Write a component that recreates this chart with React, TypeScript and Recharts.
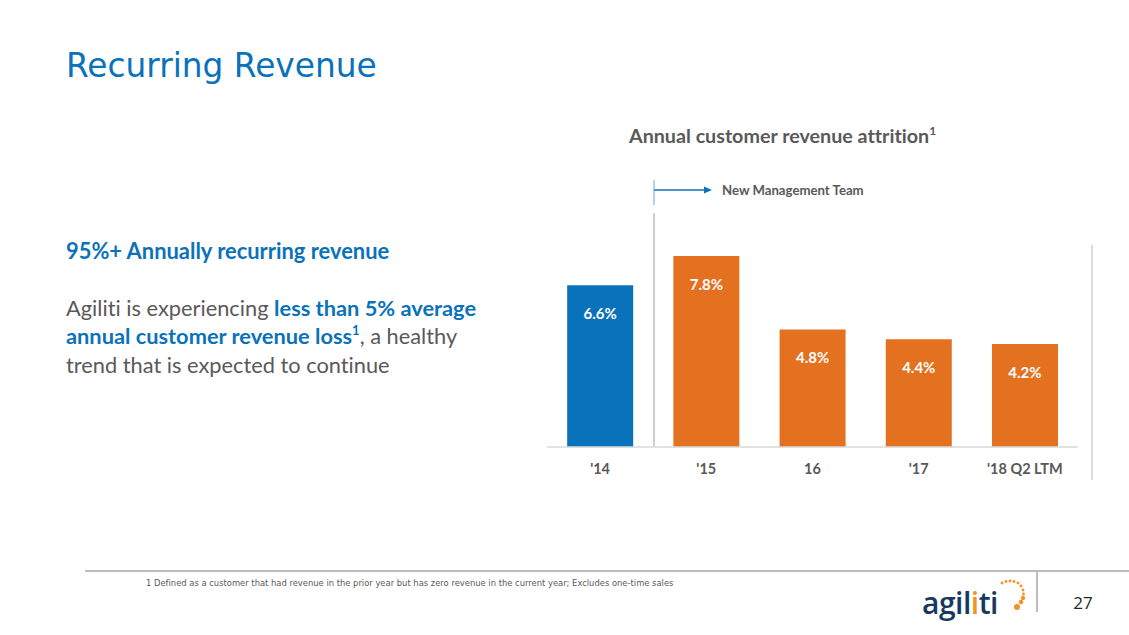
import React from "react";
import { Bar, BarChart, Cell, LabelList, XAxis, YAxis } from "recharts";

// slide values
const periods = ["'14", "'15", "16", "'17", "'18 Q2 LTM"];
const attrition = [6.6, 7.8, 4.8, 4.4, 4.2];

const BLUE = "#0A72BA";
const ORANGE = "#E3711F";
const GREY = "#595959";
const FONT = "Lato, 'Open Sans', sans-serif";

const data = periods.map((period, i) => ({ period, value: attrition[i] }));

function Logo() {
  const dots = [
    [1002, 583], [1006, 581.5], [1010, 581], [1014, 581.5], [1018, 583],
    [1021, 586], [1023, 590], [1023.5, 594], [1023, 598], [1021, 602],
  ];
  return (
    <svg width={1129} height={635} style={{ position: "absolute", left: 0, top: 0, pointerEvents: "none" }}>
      <text x={922} y={614} fontFamily="'Open Sans', sans-serif" fontSize={30} fontWeight={600} fill="#163A5F" letterSpacing={-0.5}>
        agil<tspan fill="#F29220">i</tspan>ti
      </text>
      {dots.map(([cx, cy], i) => (
        <circle key={i} cx={cx} cy={cy} r={i > 7 ? 2.2 : 1.4} fill="#F29220" />
      ))}
      <circle cx={1017} cy={607} r={3} fill="#F29220" />
    </svg>
  );
}

const line: React.CSSProperties = { position: "absolute", left: 66, fontSize: 21.8, color: GREY, whiteSpace: "nowrap" };

export default function App() {
  return (
    <div
      style={{
        position: "relative",
        width: 1129,
        height: 635,
        background: "#fff",
        overflow: "hidden",
        fontFamily: FONT,
        fontVariantLigatures: "none",
      }}
    >
      <style>{"body{margin:0} svg text{font-variant-ligatures:none}"}</style>

      <div style={{ position: "absolute", left: 66, top: 47, fontFamily: "'DejaVu Sans', Verdana, sans-serif", fontSize: 32.8, color: BLUE }}>
        Recurring Revenue
      </div>

      <div style={{ position: "absolute", left: 66, top: 237, fontSize: 21.9, fontWeight: 700, color: BLUE, whiteSpace: "nowrap" }}>
        95%+ Annually recurring revenue
      </div>
      <div style={{ ...line, top: 294 }}>
        Agiliti is experiencing <b style={{ color: BLUE }}>less than 5% average</b>
      </div>
      <div style={{ ...line, top: 322 }}>
        <b style={{ color: BLUE }}>annual customer revenue loss</b>
        <span style={{ color: BLUE, fontWeight: 700, fontSize: 13, verticalAlign: 9 }}>1</span>, a healthy
      </div>
      <div style={{ ...line, top: 351 }}>trend that is expected to continue</div>

      <div style={{ position: "absolute", left: 629, top: 123, fontSize: 19.7, fontWeight: 700, color: GREY, whiteSpace: "nowrap" }}>
        Annual customer revenue attrition
        <span style={{ fontSize: 12, verticalAlign: 8 }}>1</span>
      </div>

      <svg width={1129} height={635} style={{ position: "absolute", left: 0, top: 0 }}>
        <line x1={654} y1={180} x2={654} y2={205} stroke="#9DC3E6" strokeWidth={1.5} />
        <line x1={654} y1={213} x2={654} y2={447} stroke="#BFBFBF" strokeWidth={1.5} />
        <line x1={654} y1={190} x2={706} y2={190} stroke={BLUE} strokeWidth={1.5} />
        <polygon points="704,186.5 712,190 704,193.5" fill={BLUE} />
        <text x={722} y={195} fontFamily={FONT} fontSize={13.2} fontWeight={700} fill={GREY}>
          New Management Team
        </text>
        <line x1={1092} y1={245} x2={1092} y2={480} stroke="#D0D0D0" strokeWidth={1.5} />

        <line x1={85} y1={571} x2={1129} y2={571} stroke="#A6A6A6" strokeWidth={1.5} />
        <line x1={1037} y1={572} x2={1037} y2={612} stroke="#A6A6A6" strokeWidth={1.5} />
        <text x={146} y={586} fontFamily="'DejaVu Sans', sans-serif" fontSize={8.4} fill={GREY}>
          1 Defined as a customer that had revenue in the prior year but has zero revenue in the current year; Excludes one-time sales
        </text>
        <text x={1083} y={609} textAnchor="middle" fontFamily="'Open Sans', sans-serif" fontSize={17} fill="#262626">
          27
        </text>
      </svg>
      <Logo />

      <div style={{ position: "absolute", left: 547, top: 251 }}>
        <BarChart width={531} height={230} data={data} margin={{ top: 0, right: 0, bottom: 0, left: 0 }} barCategoryGap="19%">
          <XAxis
            dataKey="period"
            axisLine={{ stroke: "#D9D9D9", strokeWidth: 1.5 }}
            tickLine={false}
            tickMargin={11}
            height={34}
            interval={0}
            tick={{ fill: GREY, fontSize: 14.5, fontWeight: 700, fontFamily: FONT }}
          />
          <YAxis hide domain={[0, 8]} />
          <Bar dataKey="value" isAnimationActive={false}>
            {data.map((d, i) => (
              <Cell key={d.period} fill={i === 0 ? BLUE : ORANGE} />
            ))}
            <LabelList
              dataKey="value"
              position="insideTop"
              offset={23}
              formatter={(v: number) => `${v.toFixed(1)}%`}
              style={{ fill: "#fff", fontSize: 15, fontWeight: 700, fontFamily: FONT }}
            />
          </Bar>
        </BarChart>
      </div>
    </div>
  );
}
